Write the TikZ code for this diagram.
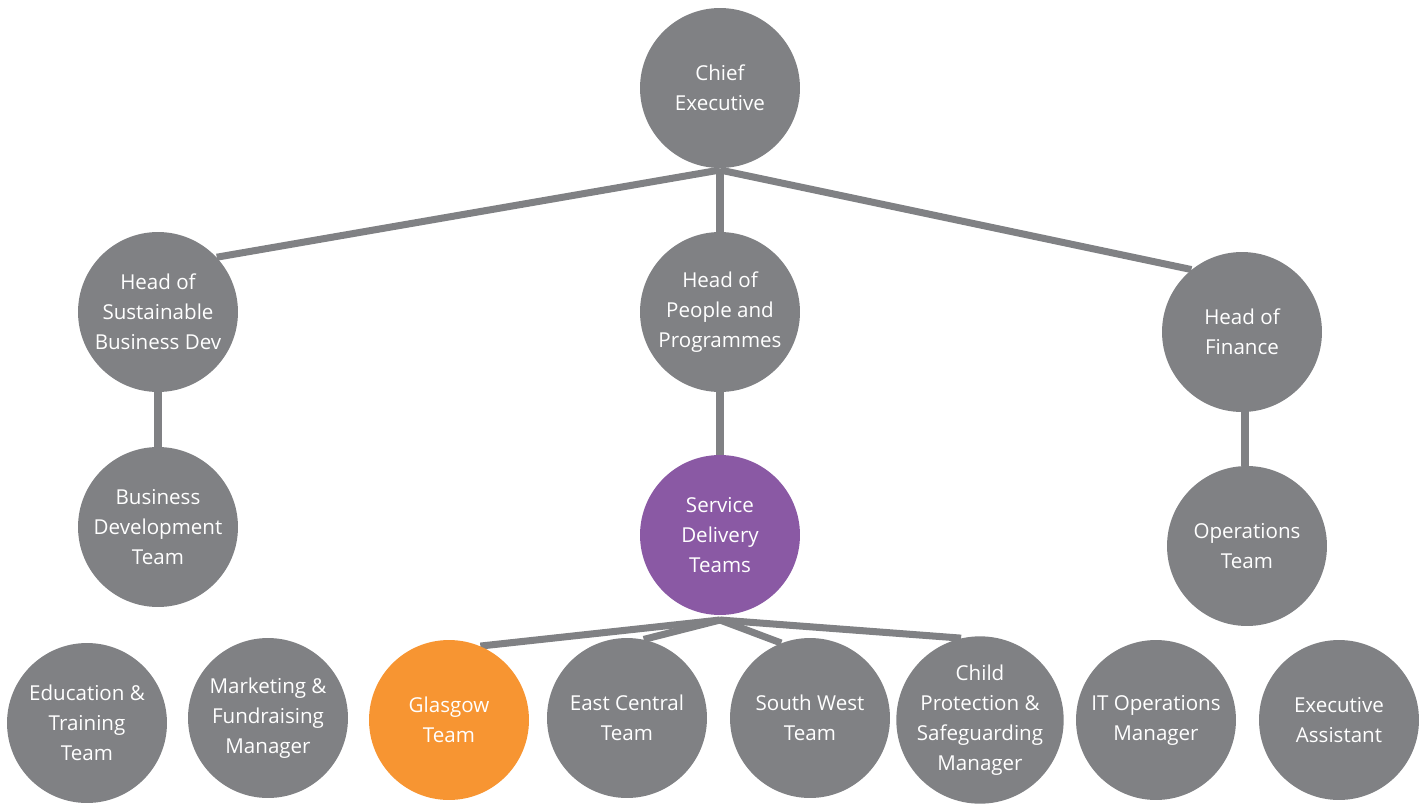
\documentclass[tikz,border=0pt]{standalone}
\usepackage{fontspec}
\setmainfont{Open Sans}
\usetikzlibrary{backgrounds}
\definecolor{orggrey}{HTML}{808184}
\definecolor{orgpurple}{HTML}{8A59A4}
\definecolor{orgorange}{HTML}{F79532}

\begin{document}
\begin{tikzpicture}[x=0.02cm, y=-0.02cm,
  p/.style={circle, fill=orggrey, text=white, minimum size=3.2cm, inner sep=0pt,
    align=center, font=\fontsize{11.7}{17}\selectfont},
  link/.style={draw=orggrey, line width=4pt}]
\useasboundingbox (0,0) rectangle (1428,805);
% top levels
\node[p] (ceo) at (720,88) {Chief\\Executive};
\node[p] (hsbd) at (158,312) {Head of\\Sustainable\\Business Dev};
\node[p] (hpp) at (720,312) {Head of\\People and\\Programmes};
\node[p] (hfin) at (1242,332) {Head of\\Finance};
\node[p] (bdt) at (158,527) {Business\\Development\\Team};
\node[p, fill=orgpurple] (sdt) at (720,535) {Service\\Delivery\\Teams};
\node[p] (ops) at (1247,546) {Operations\\Team};
% bottom row
\node[p] (edu) at (87,723) {Education \&\\Training\\Team};
\node[p] (mkt) at (268,718) {Marketing \&\\Fundraising\\Manager};
\node[p, fill=orgorange] (gla) at (449,720) {Glasgow\\Team};
\node[p] (ect) at (627,718) {East Central\\Team};
\node[p] (swt) at (810,718) {South West\\Team};
\node[p] (cpsm) at (980,720) {Child\\Protection \&\\Safeguarding\\Manager};
\node[p] (itom) at (1156,720) {IT Operations\\Manager};
\node[p] (ea) at (1339,720) {Executive\\Assistant};

\begin{scope}[on background layer]
  \coordinate (ceojoin) at (720,170);
  \coordinate (sdtjoin) at (720,620);
  \coordinate (finfoot) at (1245,400);
  \draw[link] (ceojoin) -- (hsbd.43);
  \draw[link] (ceojoin) -- (hpp.north);
  \draw[link] (ceojoin) -- (hfin.129);
  \draw[link] (hsbd.south) -- (bdt.north);
  \draw[link] (hpp.south) -- (sdt.north);
  \draw[link] (finfoot) -- (finfoot |- ops.north);
  \draw[link] (sdtjoin) -- (gla.67);
  \draw[link] (sdtjoin) -- (ect.78);
  \draw[link] (sdtjoin) -- (swt.111);
  \draw[link] (sdtjoin) -- (cpsm.103);
\end{scope}
\end{tikzpicture}
\end{document}
